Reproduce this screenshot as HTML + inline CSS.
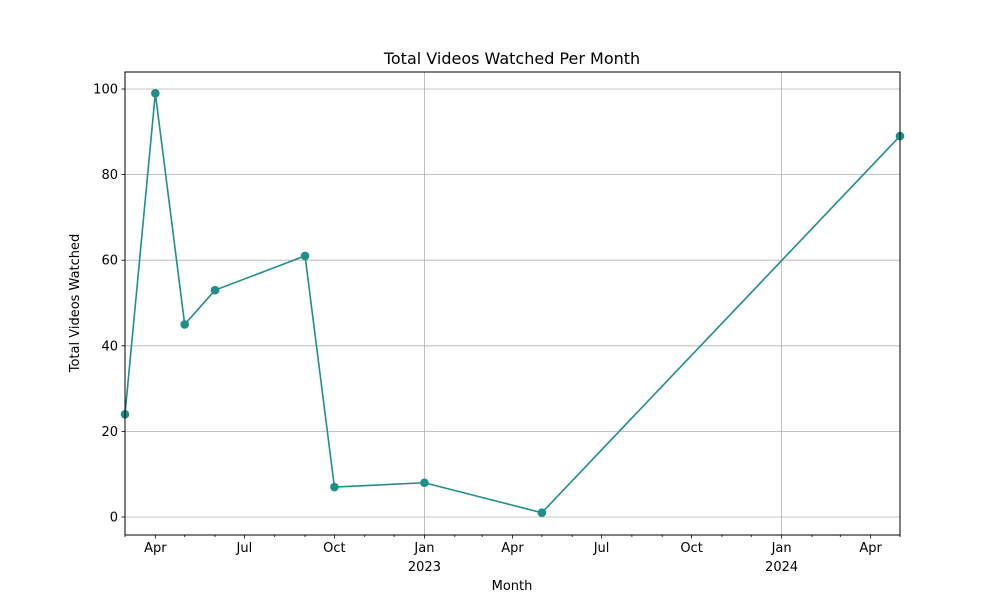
<!DOCTYPE html>
<html><head><meta charset="utf-8"><style>
body{margin:0;background:#fff;font-family:"Liberation Sans","DejaVu Sans",sans-serif;}
svg text{font-family:"DejaVu Sans","Liberation Sans",sans-serif;}
</style></head><body>
<svg id="c" width="1000" height="600"></svg>
<script>
const months=["2022-03","2022-04","2022-05","2022-06","2022-09","2022-10","2023-01","2023-05","2024-05"];
const values=[24,99,45,53,61,7,8,1,89];
const yTicks=[0,20,40,60,80,100];
const monthNames=["Jan","Feb","Mar","Apr","May","Jun","Jul","Aug","Sep","Oct","Nov","Dec"];
const L=125,R=900,T=72,B=535;
const d0=Date.UTC(2022,2,1),d1=Date.UTC(2024,4,1);
function pd(s){const[a,b]=s.split("-").map(Number);return Date.UTC(a,b-1,1);}
const x=t=>L+(t-d0)/(d1-d0)*(R-L);
const y=v=>517-v*4.28;
const svg=document.getElementById('c');const NS="http://www.w3.org/2000/svg";
function el(tag,attrs,txt){const e=document.createElementNS(NS,tag);for(const k in attrs)e.setAttribute(k,attrs[k]);if(txt!=null)e.textContent=txt;svg.appendChild(e);return e;}
// y grid & ticks
yTicks.forEach(v=>{
 const g=el('line',{x1:L,x2:R,y1:y(v),y2:y(v),stroke:'#b0b0b0','stroke-width':0.8});
 
 el('line',{x1:L-3.5,x2:L,y1:y(v),y2:y(v),stroke:'#000','stroke-width':0.8});
 const t=el('text',{x:L-7,y:y(v)+4.5,'text-anchor':'end','font-size':13},String(v));
 
});
// x ticks
for(let yr=2022;yr<=2024;yr++)for(let m=0;m<12;m++){
 const t=Date.UTC(yr,m,1);if(t<d0||t>d1)continue;const xx=x(t);
 if(m===0){const g=el('line',{x1:xx,x2:xx,y1:T,y2:B,stroke:'#b0b0b0','stroke-width':0.8});
  }
 el('line',{x1:xx,x2:xx,y1:B,y2:B+(m%3===0?3.5:2),stroke:'#000','stroke-width':0.8});
 if(m%3===0){const tl=el('text',{x:xx,y:B+17,'text-anchor':'middle','font-size':13},monthNames[m]);
  
  if(m===0){const yl=el('text',{x:xx,y:B+36,'text-anchor':'middle','font-size':13},String(yr));
   }}
}
// line
const pts=months.map((mm,i)=>x(pd(mm))+','+y(values[i])).join(' ');
const pl=el('polyline',{points:pts,fill:'none',stroke:'#1f8f89','stroke-width':1.6});

months.forEach((mm,i)=>{const c=el('circle',{cx:x(pd(mm)),cy:y(values[i]),r:4.3,fill:'#1f8f89'});
 });
const f=el('rect',{x:L,y:T,width:R-L,height:B-T,fill:'none',stroke:'#000','stroke-width':1});

const ti=el('text',{x:512,y:64,'text-anchor':'middle','font-size':16},'Total Videos Watched Per Month');

const xt=el('text',{x:512,y:590,'text-anchor':'middle','font-size':13},'Month');

const yt=el('text',{x:0,y:0,'text-anchor':'middle','font-size':13,transform:'translate(79,303) rotate(-90)'},'Total Videos Watched');

</script>
</body></html>
